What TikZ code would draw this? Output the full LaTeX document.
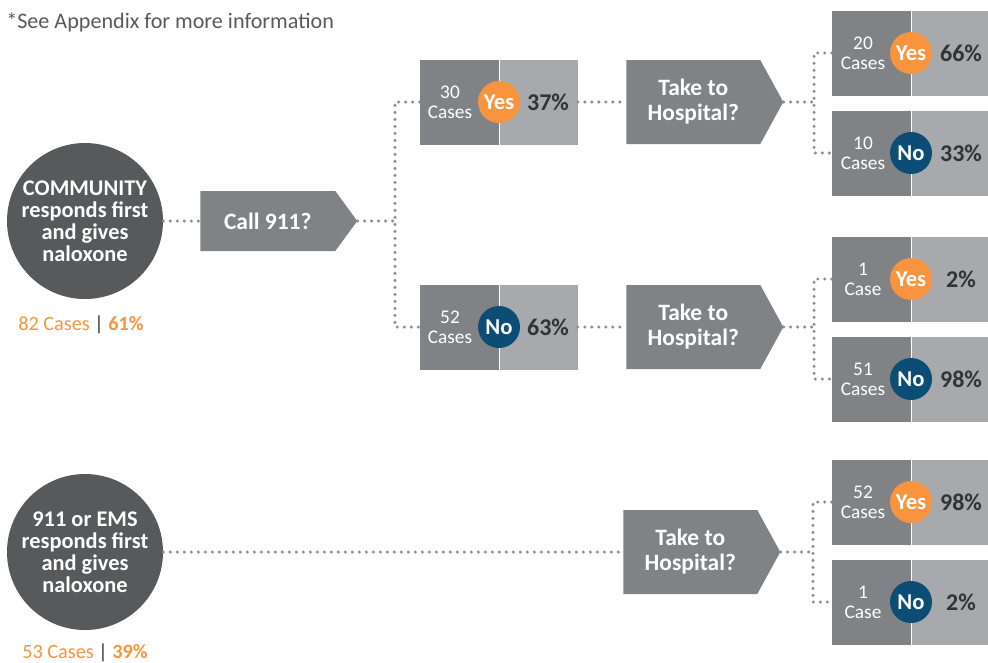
\documentclass[tikz,border=0pt]{standalone}
\usepackage{fontspec}
\setmainfont{Carlito}
\usepackage{tikz}
\usetikzlibrary{shapes.symbols}
\definecolor{circgray}{HTML}{58595B}
\definecolor{shapegray}{HTML}{808285}
\definecolor{boxlight}{HTML}{A7A9AC}
\definecolor{yesorange}{HTML}{F7943D}
\definecolor{nonavy}{HTML}{0C4D76}
\definecolor{pctdark}{HTML}{333333}
\definecolor{dotgray}{HTML}{8C8E91}

\begin{document}
\begin{tikzpicture}[x=0.75pt,y=0.75pt,yscale=-1,xscale=1,
  startcirc/.style={circle, fill=circgray, text=white, minimum size=117pt, inner sep=0pt, align=center, font=\bfseries\fontsize{16.8}{16.5}\selectfont},
  askarrow/.style={signal, signal to=east, fill=shapegray, text=white, inner sep=0pt, align=center, minimum width=117.75pt, minimum height=63pt, signal pointer angle=122.6, font=\bfseries\fontsize{17.6}{18.75}\selectfont},
  caseleft/.style={rectangle, fill=shapegray, minimum width=59.25pt, minimum height=63.75pt, inner sep=0pt},
  caseright/.style={rectangle, fill=boxlight, minimum width=58.5pt, minimum height=63.75pt, inner sep=0pt},
  yesdot/.style={circle, fill=yesorange, text=white, minimum size=31.5pt, inner sep=0pt, font=\bfseries\fontsize{17}{17}\selectfont},
  nodot/.style={yesdot, fill=nonavy},
  counttext/.style={text=white, align=center, inner sep=0pt, font=\fontsize{14.5}{15}\selectfont},
  pcttext/.style={text=pctdark, inner sep=0pt, font=\bfseries\fontsize{18}{18}\selectfont},
  sharetext/.style={text=yesorange, inner sep=0pt, font=\fontsize{15.2}{15}\selectfont},
  notetext/.style={text=circgray, inner sep=0pt, font=\fontsize{16.6}{17}\selectfont},
  dotline/.style={draw=dotgray, line width=2.6pt, line cap=round, dash pattern=on 0pt off 5.25pt}]
\path[use as bounding box] (0,0) rectangle (988,662);

% Note
\node[notetext, anchor=west] (note) at (6,22) {*See Appendix for more information};

% Start circles
\node[startcirc] (comm) at (85,221) {COMMUNITY\\responds first\\and gives\\naloxone};
\node[sharetext] (commshare) at (81,325) {82 Cases {\color{pctdark}|} \textbf{61\%}};
\node[startcirc] (ems) at (85,552) {911 or EMS\\responds first\\and gives\\naloxone};
\node[sharetext] (emsshare) at (85,653) {53 Cases {\color{pctdark}|} \textbf{39\%}};

% Question arrows
\node[askarrow, minimum height=45pt, signal pointer angle=107.5, anchor=west] (call) at (200,221) {Call 911?};
\node[askarrow, anchor=west] (hosp1) at (626,102) {Take to\\Hospital?};
\node[askarrow, anchor=west] (hosp2) at (626,327) {Take to\\Hospital?};
\node[askarrow, anchor=west] (hosp3) at (623,552) {Take to\\Hospital?};

% Called 911: yes
\node[caseleft] (y30l) at (459.5,102) {};
\node[caseright] (y30r) at (538.5,102) {};
\node[yesdot] (y30d) at (499,102) {Yes};
\node[counttext] (y30c) at (450,102) {30\\Cases};
\node[pcttext] (y30p) at (548,102) {37\%};
% Called 911: no
\node[caseleft] (n52l) at (459.5,327) {};
\node[caseright] (n52r) at (538.5,327) {};
\node[nodot] (n52d) at (499,327) {No};
\node[counttext] (n52c) at (450,327) {52\\Cases};
\node[pcttext] (n52p) at (548,327) {63\%};

% Hospital after 911
\node[caseleft] (y20l) at (871.5,53) {};
\node[caseright] (y20r) at (950.5,53) {};
\node[yesdot] (y20d) at (911,53) {Yes};
\node[counttext] (y20c) at (863,53) {20\\Cases};
\node[pcttext] (y20p) at (961,53) {66\%};
\node[caseleft] (n10l) at (871.5,153) {};
\node[caseright] (n10r) at (950.5,153) {};
\node[nodot] (n10d) at (911,153) {No};
\node[counttext] (n10c) at (863,153) {10\\Cases};
\node[pcttext] (n10p) at (961,153) {33\%};

% Hospital without 911
\node[caseleft] (y1l) at (871.5,279) {};
\node[caseright] (y1r) at (950.5,279) {};
\node[yesdot] (y1d) at (911,279) {Yes};
\node[counttext] (y1c) at (863,279) {1\\Case};
\node[pcttext] (y1p) at (961,279) {2\%};
\node[caseleft] (n51l) at (871.5,379) {};
\node[caseright] (n51r) at (950.5,379) {};
\node[nodot] (n51d) at (911,379) {No};
\node[counttext] (n51c) at (863,379) {51\\Cases};
\node[pcttext] (n51p) at (961,379) {98\%};

% Hospital after EMS
\node[caseleft] (y52l) at (871.5,502) {};
\node[caseright] (y52r) at (950.5,502) {};
\node[yesdot] (y52d) at (911,502) {Yes};
\node[counttext] (y52c) at (863,502) {52\\Cases};
\node[pcttext] (y52p) at (961,502) {98\%};
\node[caseleft] (n1l) at (871.5,602) {};
\node[caseright] (n1r) at (950.5,602) {};
\node[nodot] (n1d) at (911,602) {No};
\node[counttext] (n1c) at (863,602) {1\\Case};
\node[pcttext] (n1p) at (961,602) {2\%};

% Branch points
\coordinate (callsplit) at (395,221);
\coordinate (hosp1split) at (814,102);
\coordinate (hosp2split) at (814,327);
\coordinate (hosp3split) at (813,552);

% Dotted connectors
\draw[dotline] (comm.east) -- (call.west);
\draw[dotline] (call.east) -- (callsplit);
\draw[dotline] (y30l.west) -| (callsplit) |- (n52l.west);
\draw[dotline] (y30r.east) -- (hosp1.west);
\draw[dotline] (n52r.east) -- (hosp2.west);
\draw[dotline] (hosp1.east) -- (hosp1split);
\draw[dotline] (y20l.west) -| (hosp1split) |- (n10l.west);
\draw[dotline] (hosp2.east) -- (hosp2split);
\draw[dotline] (y1l.west) -| (hosp2split) |- (n51l.west);
\draw[dotline] (ems.east) -- (hosp3.west);
\draw[dotline] (hosp3.east) -- (hosp3split);
\draw[dotline] (y52l.west) -| (hosp3split) |- (n1l.west);

\end{tikzpicture}
\end{document}
